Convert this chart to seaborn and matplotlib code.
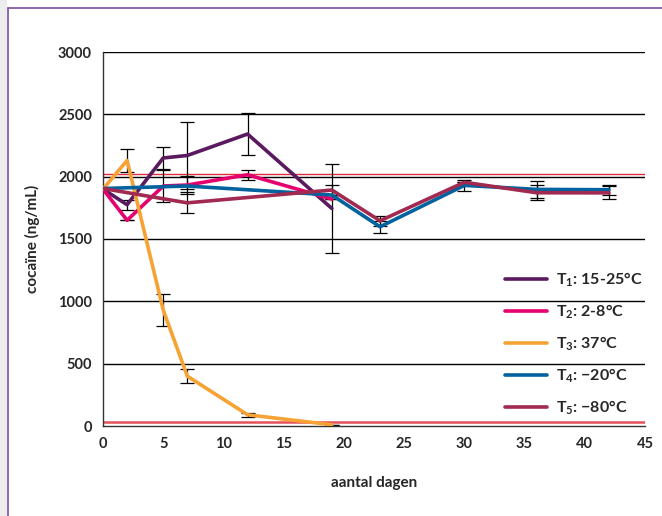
import matplotlib
matplotlib.use("Agg")
import matplotlib.pyplot as plt
import seaborn as sns
import pandas as pd
from matplotlib.lines import Line2D
from matplotlib.patches import Rectangle

# ---- data ----
days_a = [0, 2, 5, 7, 12, 19]
days_b = [0, 7, 19, 23, 30, 36, 42]
t1_vals = [1900, 1775, 2150, 2170, 2342, 1745]
t1_err = [0, 40, 90, 270, 170, 355]
t2_vals = [1900, 1650, 1925, 1933, 2015, 1820]
t2_err = [0, 0, 125, 70, 40, 0]
t3_vals = [1900, 2130, 930, 400, 90, 10]
t3_err = [0, 90, 125, 55, 15, 0]
t4_vals = [1905, 1925, 1853, 1598, 1930, 1898, 1895]
t4_err = [0, 0, 0, 50, 45, 70, 40]
t5_vals = [1905, 1790, 1893, 1646, 1955, 1871, 1870]
t5_err = [0, 85, 42, 38, 0, 62, 52]
labels = [r"T$_\mathregular{1}$: 15-25°C", r"T$_\mathregular{2}$: 2-8°C",
          r"T$_\mathregular{3}$: 37°C", r"T$_\mathregular{4}$: −20°C",
          r"T$_\mathregular{5}$: −80°C"]
colors = ["#5B1A5F", "#E5006D", "#F7A234", "#00629E", "#A2294F"]
ref_upper = 2025
ref_lower = 35
x_ticks = list(range(0, 46, 5))
y_ticks = list(range(0, 3001, 500))

series = [
    (days_a, t1_vals, t1_err),
    (days_a, t2_vals, t2_err),
    (days_a, t3_vals, t3_err),
    (days_b, t4_vals, t4_err),
    (days_b, t5_vals, t5_err),
]

rows = []
for lab, (d, v, e) in zip(labels, series):
    for di, vi, ei in zip(d, v, e):
        rows.append({"dag": di, "conc": vi, "err": ei, "serie": lab})
df = pd.DataFrame(rows)

sns.set_theme(style="white")
plt.rcParams["font.family"] = ["Lato", "DejaVu Sans"]
plt.rcParams["font.weight"] = "bold"
plt.rcParams["mathtext.fontset"] = "custom"
plt.rcParams["mathtext.rm"] = "Lato:bold"
plt.rcParams["mathtext.default"] = "regular"

fig = plt.figure(figsize=(6.62, 5.16), dpi=100)
fig.patch.set_facecolor("white")
# page frame
fig.add_artist(Rectangle((0, 0), 7 / 662, 1, transform=fig.transFigure,
                         facecolor="#EDEDED", edgecolor="none", zorder=0))
fig.add_artist(Line2D([7.5 / 662, 7.5 / 662], [0, 1 - 8 / 516], transform=fig.transFigure,
                      color="#7B4FA0", lw=1.2))
fig.add_artist(Line2D([7.5 / 662, 1], [1 - 8 / 516, 1 - 8 / 516], transform=fig.transFigure,
                      color="#7B4FA0", lw=1.2))

ax = fig.add_axes([103 / 662, 90 / 516, (645 - 103) / 662, (426 - 52) / 516])
ax.set_facecolor("white")

for y in y_ticks[1:]:
    ax.axhline(y, color="black", lw=1.0, zorder=1)
ax.axhline(ref_upper, color="#DE2D3A", lw=1.0, zorder=1)
ax.axhline(ref_lower, color="#E5505A", lw=1.8, zorder=1)

# error bars
for lab, (d, v, e) in zip(labels, series):
    ax.errorbar(d, v, yerr=e, fmt="none", ecolor="black", elinewidth=0.9,
                capsize=5, capthick=0.9, zorder=2)

order = [3, 4, 1, 0, 2]
for i in order:
    sub = df[df["serie"] == labels[i]]
    sns.lineplot(data=sub, x="dag", y="conc", color=colors[i], lw=2.6,
                 ax=ax, zorder=3 + i, label=labels[i], sort=False)

ax.set_xlim(0, 45)
ax.set_ylim(0, 3000)
ax.set_xticks(x_ticks)
ax.set_yticks(y_ticks)
ax.tick_params(axis="both", direction="out", length=4, width=1, color="#333333",
               labelsize=10.5, pad=4)
for lbl in ax.get_xticklabels() + ax.get_yticklabels():
    lbl.set_fontweight("bold")
for s in ["top", "right"]:
    ax.spines[s].set_visible(False)
for s in ["left", "bottom"]:
    ax.spines[s].set_color("#333333")
    ax.spines[s].set_linewidth(1.0)
ax.set_xlabel("aantal dagen", fontsize=11, fontweight="bold", labelpad=18)
ax.set_ylabel("cocaïne (ng/mL)", fontsize=11, fontweight="bold", labelpad=13)

handles, labs = ax.get_legend_handles_labels()
hmap = dict(zip(labs, handles))
leg = ax.legend([hmap[l] for l in labels], labels, loc="upper left",
                bbox_to_anchor=(0.716, 0.455), frameon=False,
                handlelength=2.6, labelspacing=0.85, handletextpad=0.55,
                prop={"weight": "bold", "size": 11.5})

fig.savefig("out.png", dpi=100)
